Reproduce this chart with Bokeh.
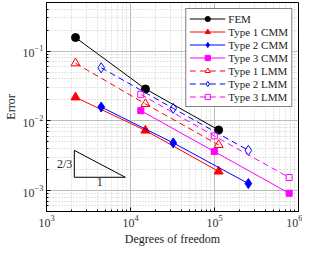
from bokeh.plotting import figure
from bokeh.models import Legend, LegendItem, Label
from bokeh.embed import file_html
from bokeh.resources import INLINE

# Data (degrees of freedom, error)
fem_x = [2215, 15060, 112000]
fem_y = [0.157, 0.0287, 0.0074]

t1c_x = [2215, 15060, 112000]
t1c_y = [0.0218, 0.00728, 0.00188]
t2c_x = [4480, 32270, 252900]
t2c_y = [0.0158, 0.00483, 0.00126]
t3c_x = [13250, 99500, 774000]
t3c_y = [0.0140, 0.00363, 0.000914]

t1l_x = [2215, 15060, 112000]
t1l_y = [0.0672, 0.0175, 0.00452]
t2l_x = [4480, 32270, 252900]
t2l_y = [0.0578, 0.0151, 0.00377]
t3l_x = [13250, 99500, 774000]
t3l_y = [0.0240, 0.00608, 0.00154]

labels = ["FEM", "Type 1 CMM", "Type 2 CMM", "Type 3 CMM",
          "Type 1 LMM", "Type 2 LMM", "Type 3 LMM"]

# slope triangle
tri_x = [2144, 2144, 8670, 2144]
tri_y = [0.00377, 0.00155, 0.00155, 0.00377]

FONT = "Liberation Serif"

p = figure(width=302, height=248, x_axis_type="log", y_axis_type="log",
           x_range=(1e3, 1e6), y_range=(5e-4, 0.5),
           output_backend="svg", toolbar_location=None,
           min_border_left=0, min_border_right=4, min_border_top=2, min_border_bottom=0)

p.outline_line_color = "black"
p.outline_line_width = 1
p.background_fill_color = "white"
p.border_fill_color = "white"

for ax in (p.xaxis[0], p.yaxis[0]):
    ax.axis_line_color = "black"
    ax.major_tick_in = 4
    ax.major_tick_out = 0
    ax.minor_tick_in = 2
    ax.minor_tick_out = 0
    ax.major_tick_line_color = "black"
    ax.minor_tick_line_color = "black"
    ax.major_label_text_font = FONT
    ax.major_label_text_font_size = "12px"
    ax.major_label_text_color = "#333333"
    ax.axis_label_text_font = FONT
    ax.axis_label_text_font_size = "12px"
    ax.axis_label_text_font_style = "normal"
    ax.axis_label_text_color = "#222222"
    ax.axis_label_standoff = 2
    ax.major_label_standoff = 3

p.xaxis.axis_label = "Degrees of freedom"
p.yaxis.axis_label = "Error"

for g in (p.xgrid[0], p.ygrid[0]):
    g.grid_line_color = "#bdbdbd"
    g.grid_line_width = 1
    g.minor_grid_line_color = "#c8c8c8"
    g.minor_grid_line_dash = "1 2"
    g.minor_grid_line_width = 1

items = []

def series(x, y, color, marker, fill, dash, label, size):
    r1 = p.line(x, y, line_color=color, line_width=1, line_dash=dash)
    r2 = p.scatter(x, y, marker=marker, size=size, line_color=color,
                   fill_color=(color if fill else "white"),
                   fill_alpha=(1 if fill else 0), line_width=1)
    items.append(LegendItem(label=label, renderers=[r1, r2]))

series(fem_x, fem_y, "black", "circle", True, "solid", labels[0], 8)
series(t1c_x, t1c_y, "red", "triangle", True, "solid", labels[1], 9)
series(t2c_x, t2c_y, "blue", "diamond", True, "solid", labels[2], 10)
series(t3c_x, t3c_y, "magenta", "square", True, "solid", labels[3], 6)
series(t1l_x, t1l_y, "red", "triangle", False, "6 4", labels[4], 9)
series(t2l_x, t2l_y, "blue", "diamond", False, "6 4", labels[5], 10)
series(t3l_x, t3l_y, "magenta", "square", False, "6 4", labels[6], 6)

p.line(tri_x, tri_y, line_color="black", line_width=1)
p.add_layout(Label(x=tri_x[0], y=(tri_y[0] * tri_y[1]) ** 0.5, text="2/3",
                   text_font=FONT, text_font_size="12px", x_offset=-2,
                   text_align="right", text_baseline="middle", text_color="#222222"))
p.add_layout(Label(x=(tri_x[1] * tri_x[2]) ** 0.5, y=tri_y[1], text="1",
                   text_font=FONT, text_font_size="12px", y_offset=-1,
                   text_align="center", text_baseline="top", text_color="#222222"))

legend = Legend(items=items, location="top_right")
legend.label_text_font = FONT
legend.label_text_font_size = "11px"
legend.label_text_color = "#222222"
legend.border_line_color = "black"
legend.border_line_width = 1
legend.background_fill_alpha = 1
legend.glyph_width = 36
legend.glyph_height = 13
legend.label_height = 13
legend.label_standoff = 3
legend.spacing = 0
legend.padding = 3
legend.margin = 6
p.add_layout(legend)

open("out.html", "w").write(file_html(p, INLINE))
